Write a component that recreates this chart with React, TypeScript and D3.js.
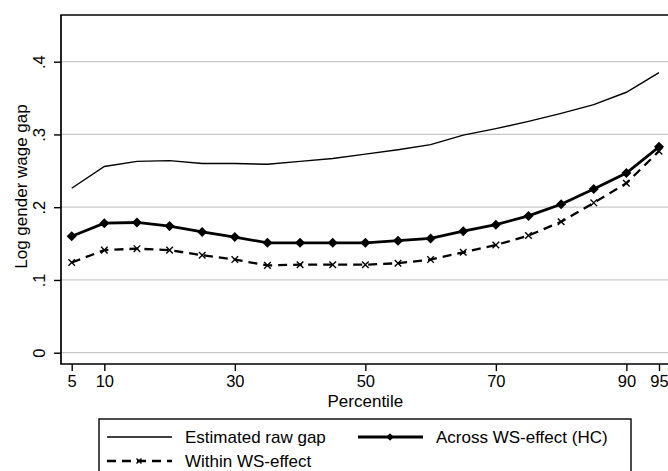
import React, { useEffect, useRef } from 'react';
import * as d3 from 'd3';

const width = 668;
const height = 471;
const margin = { top: 15, bottom: 107, left: 61 };

const percentiles = [5, 10, 15, 20, 25, 30, 35, 40, 45, 50, 55, 60, 65, 70, 75, 80, 85, 90, 95];
const rawGap = [0.226, 0.256, 0.263, 0.264, 0.260, 0.260, 0.259, 0.263, 0.267, 0.273, 0.279, 0.286, 0.299, 0.308, 0.318, 0.329, 0.341, 0.358, 0.385];
const acrossWS = [0.160, 0.178, 0.179, 0.174, 0.166, 0.159, 0.151, 0.151, 0.151, 0.151, 0.154, 0.157, 0.167, 0.176, 0.188, 0.204, 0.225, 0.247, 0.283];
const withinWS = [0.124, 0.141, 0.143, 0.141, 0.134, 0.128, 0.120, 0.121, 0.121, 0.121, 0.123, 0.128, 0.138, 0.148, 0.161, 0.180, 0.206, 0.233, 0.277];
const xTicks = [5, 10, 30, 50, 70, 90, 95];
const yTicks = [0, 0.1, 0.2, 0.3, 0.4];
const yTickLabels = ['0', '.1', '.2', '.3', '.4'];
const legendLabels = ['Estimated raw gap', 'Across WS-effect (HC)', 'Within WS-effect'];

const font = '"Liberation Sans", Arial, sans-serif';

export default function App() {
  const ref = useRef<SVGSVGElement>(null);

  useEffect(() => {
    const svg = d3.select(ref.current);
    svg.selectAll('*').remove();

    const x = d3.scaleLinear().domain([5, 95]).range([71.7, 659]);
    const y = d3.scaleLinear().domain([0, 0.4]).range([352.7, 61.7]);
    const plotBottom = height - margin.bottom;

    // gridlines
    svg.append('g').selectAll('line').data(yTicks).join('line')
      .attr('x1', margin.left).attr('x2', width)
      .attr('y1', d => y(d)).attr('y2', d => y(d))
      .attr('stroke', '#c8c8c8').attr('stroke-width', 1.2);

    // frame (left, top, bottom)
    svg.append('path')
      .attr('d', `M${width + 2},${margin.top}H${margin.left}V${plotBottom}H${width + 2}`)
      .attr('fill', 'none').attr('stroke', '#000').attr('stroke-width', 1.7);

    // y axis
    const yAxis = d3.axisLeft(y).tickValues(yTicks).tickSize(7)
      .tickFormat((d, i) => yTickLabels[i]);
    const gy = svg.append('g').attr('transform', `translate(${margin.left},0)`).call(yAxis);
    gy.select('.domain').remove();
    gy.selectAll('.tick line').attr('stroke-width', 1.4);
    gy.selectAll('.tick text')
      .attr('font-family', font).attr('font-size', 16.5).attr('fill', '#000')
      .attr('text-anchor', 'middle')
      .attr('transform', 'rotate(-90)')
      .attr('x', 0).attr('y', -16).attr('dy', 0);

    // x axis
    const xAxis = d3.axisBottom(x).tickValues(xTicks).tickSize(7).tickFormat(d => `${d}`);
    const gx = svg.append('g').attr('transform', `translate(0,${plotBottom})`).call(xAxis);
    gx.select('.domain').remove();
    gx.selectAll('.tick line').attr('stroke-width', 1.4);
    gx.selectAll('.tick text')
      .attr('font-family', font).attr('font-size', 16.5).attr('fill', '#000')
      .attr('y', 23).attr('dy', 0);

    svg.append('text').attr('x', x(50)).attr('y', 407)
      .attr('text-anchor', 'middle').attr('font-family', font).attr('font-size', 17)
      .text('Percentile');
    svg.append('text').attr('transform', `translate(27,${(margin.top + plotBottom) / 2 - 3}) rotate(-90)`)
      .attr('text-anchor', 'middle').attr('font-family', font).attr('font-size', 17)
      .text('Log gender wage gap');

    const line = (vals: number[]) => d3.line<number>()
      .x((d, i) => x(percentiles[i])).y(d => y(d))(vals);

    svg.append('path').attr('d', line(rawGap)).attr('fill', 'none')
      .attr('stroke', '#000').attr('stroke-width', 1.4);
    svg.append('path').attr('d', line(acrossWS)).attr('fill', 'none')
      .attr('stroke', '#000').attr('stroke-width', 2.8);
    svg.append('path').attr('d', line(withinWS)).attr('fill', 'none')
      .attr('stroke', '#000').attr('stroke-width', 2.3).attr('stroke-dasharray', '9,6');

    const diamond = d3.symbol().type(d3.symbolDiamond2).size(64);
    svg.append('g').selectAll('path').data(acrossWS).join('path')
      .attr('d', diamond)
      .attr('transform', (d, i) => `translate(${x(percentiles[i])},${y(d)})`)
      .attr('fill', '#000');
    const cross = d3.symbol().type(d3.symbolX).size(30);
    svg.append('g').selectAll('path').data(withinWS).join('path')
      .attr('d', cross)
      .attr('transform', (d, i) => `translate(${x(percentiles[i])},${y(d)})`)
      .attr('fill', 'none').attr('stroke', '#000').attr('stroke-width', 1.4);

    // legend
    const lg = svg.append('g');
    lg.append('rect').attr('x', 99).attr('y', 419).attr('width', 532).attr('height', 70)
      .attr('fill', '#fff').attr('stroke', '#000').attr('stroke-width', 1.4);
    const legendDiamond = d3.symbol().type(d3.symbolDiamond2).size(36);
    const legendCross = d3.symbol().type(d3.symbolX).size(18);
    const items = [
      { x: 107, y: 437, w: 1.4, dash: null, mark: null },
      { x: 358, y: 437, w: 2.8, dash: null, mark: 'diamond' },
      { x: 107, y: 461, w: 2.3, dash: '9,6', mark: 'cross' },
    ];
    items.forEach((it, i) => {
      lg.append('line').attr('x1', it.x).attr('x2', it.x + 65).attr('y1', it.y).attr('y2', it.y)
        .attr('stroke', '#000').attr('stroke-width', it.w)
        .attr('stroke-dasharray', it.dash);
      if (it.mark === 'diamond') {
        lg.append('path').attr('d', legendDiamond).attr('transform', `translate(${it.x + 32},${it.y})`).attr('fill', '#000');
      } else if (it.mark === 'cross') {
        lg.append('path').attr('d', legendCross).attr('transform', `translate(${it.x + 32},${it.y})`)
          .attr('fill', 'none').attr('stroke', '#000').attr('stroke-width', 1.4);
      }
      lg.append('text').attr('x', it.x + 78).attr('y', it.y).attr('dy', '0.35em')
        .attr('font-family', font).attr('font-size', 17).text(legendLabels[i]);
    });
  }, []);

  return (
    <svg ref={ref} width={width} height={height}
      style={{ position: 'absolute', left: 0, top: 0, background: '#fff' }} />
  );
}
